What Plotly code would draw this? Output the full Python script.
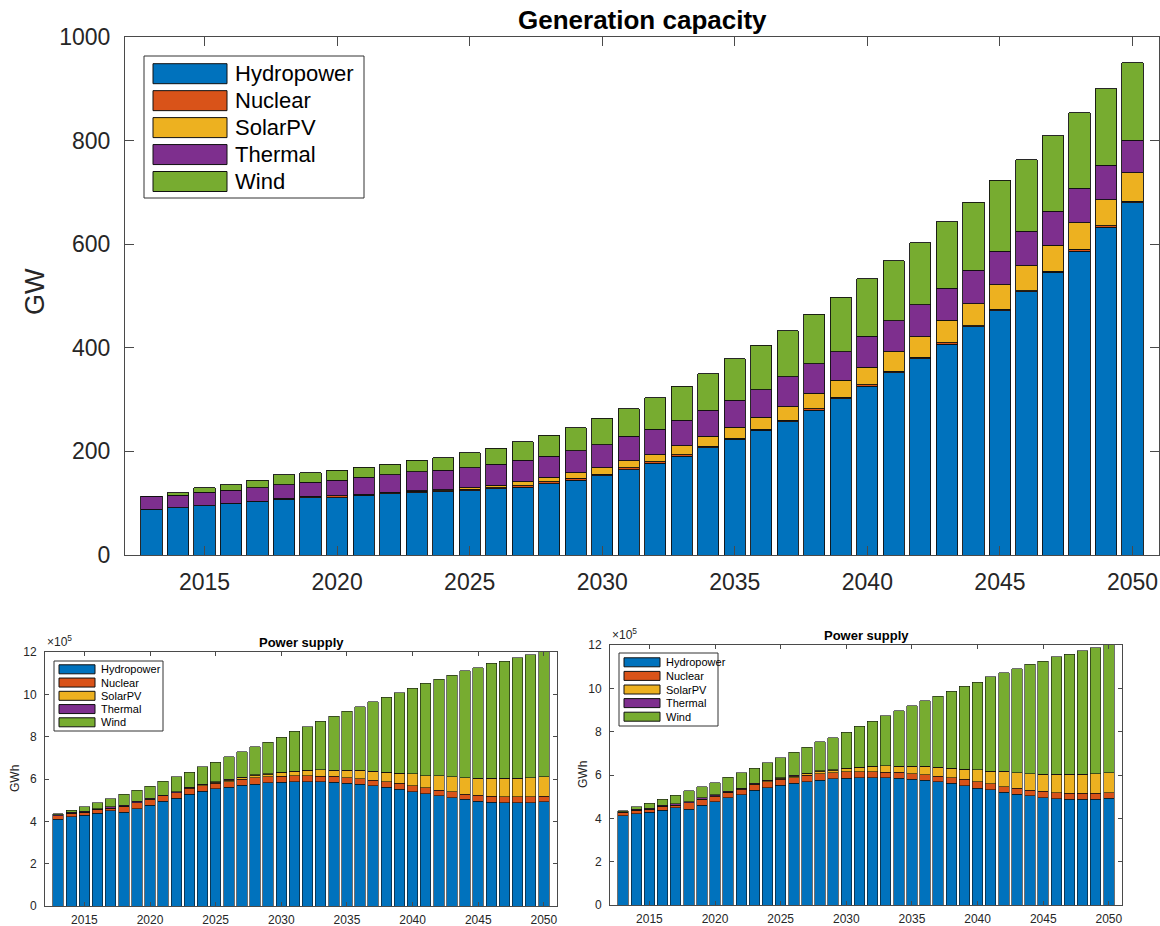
import plotly.graph_objects as go

years = list(range(2013, 2051))
tech_names = ["Hydropower", "Nuclear", "SolarPV", "Thermal", "Wind"]
tech_colors = ["#0072BD", "#D95319", "#EDB120", "#7E2F8E", "#77AC30"]

# Generation capacity (GW)
cap_hydro = [88, 91, 95, 100, 104, 108, 111, 111, 115, 118, 120, 122, 124, 128, 131, 138, 144, 153, 165,
             177, 191, 207, 223, 241, 257, 279, 302, 326, 352, 379, 407, 441, 472, 508, 546, 586, 633, 680]
cap_nuclear = [0, 0, 0, 0, 0, 2, 2, 3, 2, 2, 3, 2, 3, 2, 3, 3, 4, 3, 3,
               3, 3, 3, 2, 2, 3, 3, 3, 3, 3, 3, 3, 2, 2, 2, 2, 4, 3, 3]
cap_solar = [0, 0, 0, 0, 0, 0, 0, 0, 0, 1, 1, 2, 3, 5, 7, 9, 11, 12, 14,
             14, 17, 19, 22, 23, 26, 30, 32, 33, 37, 39, 43, 42, 48, 48, 50, 51, 50, 55]
cap_thermal = [25, 24, 26, 25, 26, 26, 27, 30, 33, 34, 37, 38, 38, 40, 42, 41, 42, 45, 47,
               49, 49, 50, 52, 53, 58, 57, 55, 60, 60, 62, 62, 65, 64, 67, 66, 67, 66, 63]
cap_wind = [0, 5, 9, 11, 14, 19, 19, 20, 19, 20, 22, 24, 29, 31, 36, 40, 45, 51, 53,
            61, 66, 71, 80, 86, 89, 96, 106, 111, 116, 120, 128, 131, 137, 138, 145, 146, 148, 149]

# Power supply (GWh, in units of 1e5)
sup_hydro = [4.11, 4.22, 4.28, 4.38, 4.49, 4.43, 4.60, 4.76, 4.94, 5.09, 5.29, 5.42, 5.53, 5.61, 5.70,
             5.76, 5.83, 5.84, 5.87, 5.87, 5.87, 5.84, 5.80, 5.75, 5.69, 5.61, 5.51, 5.40, 5.31, 5.21,
             5.12, 5.04, 4.96, 4.91, 4.88, 4.88, 4.88, 4.93]
sup_nuclear = [0.16, 0.16, 0.15, 0.18, 0.12, 0.28, 0.28, 0.25, 0.26, 0.26, 0.27, 0.27, 0.27, 0.26, 0.28,
               0.29, 0.28, 0.30, 0.29, 0.29, 0.26, 0.29, 0.26, 0.27, 0.26, 0.26, 0.29, 0.29, 0.28, 0.25,
               0.27, 0.25, 0.28, 0.27, 0.27, 0.27, 0.27, 0.25]
sup_solar = [0, 0, 0, 0, 0, 0, 0, 0.03, 0.01, 0.01, 0.02, 0.04, 0.04, 0.08, 0.09,
             0.13, 0.12, 0.17, 0.19, 0.25, 0.30, 0.28, 0.35, 0.39, 0.40, 0.44, 0.47, 0.55, 0.57, 0.70,
             0.72, 0.77, 0.79, 0.84, 0.87, 0.87, 0.90, 0.93]
sup_thermal = [0.03, 0.04, 0.04, 0.04, 0.07, 0.06, 0.06, 0.06, 0.03, 0.04, 0.03, 0.03, 0.03, 0.03, 0.01,
               0.01, 0.01, 0.005, 0.005, 0.005, 0.005, 0.005, 0.005, 0.005, 0.005, 0.005, 0.005, 0.005, 0.005, 0.005,
               0.005, 0.005, 0.005, 0.005, 0.005, 0.005, 0.005, 0.005]
sup_wind = [0.05, 0.11, 0.22, 0.28, 0.39, 0.51, 0.52, 0.55, 0.65, 0.71, 0.70, 0.81, 0.92, 1.08, 1.21,
            1.34, 1.49, 1.66, 1.89, 2.06, 2.29, 2.55, 2.79, 3.01, 3.29, 3.55, 3.81, 4.04, 4.36, 4.55,
            4.79, 5.04, 5.21, 5.44, 5.55, 5.71, 5.81, 6.00]

cap_series = [cap_hydro, cap_nuclear, cap_solar, cap_thermal, cap_wind]
sup_series = [sup_hydro, sup_nuclear, sup_solar, sup_thermal, sup_wind]

x_ticks = [2015, 2020, 2025, 2030, 2035, 2040, 2045, 2050]
cap_yticks = [0, 200, 400, 600, 800, 1000]
sup_yticks = [0, 2, 4, 6, 8, 10, 12]

FONT = "Liberation Sans, Arial, Helvetica, sans-serif"
TXT = "#262626"
AX = "#4a4a4a"
W, H = 1160, 926


def px_x(p):
    return p / W


def px_y(p):
    return 1 - p / H


fig = go.Figure()

panels = [
    ("x", "y", cap_series, 0.9),
    ("x2", "y2", sup_series, 0.6),
    ("x3", "y3", sup_series, 0.6),
]
for xa, ya, series, lw in panels:
    for name, color, vals in zip(tech_names, tech_colors, series):
        fig.add_trace(go.Bar(
            x=years, y=vals, name=name, xaxis=xa, yaxis=ya, showlegend=False,
            marker=dict(color=color, line=dict(color="#111111", width=lw)),
            hoverinfo="x+y+name",
        ))


def xaxis(domain, anchor, fs, tl, standoff):
    return dict(domain=domain, anchor=anchor, range=[2012, 2051], tickvals=x_ticks, ticks="inside", ticklen=tl,
                tickcolor=AX, showline=True, linecolor=AX, linewidth=1, mirror="ticks",
                showgrid=False, zeroline=False, automargin=False,
                tickfont=dict(family=FONT, size=fs, color=TXT), ticklabelstandoff=standoff)


def yaxis(domain, anchor, rng, tickvals, fs, tl, standoff):
    return dict(domain=domain, anchor=anchor, range=rng, tickvals=tickvals, ticks="inside", ticklen=tl,
                tickcolor=AX, showline=True, linecolor=AX, linewidth=1, mirror="ticks",
                showgrid=False, zeroline=False, automargin=False,
                tickfont=dict(family=FONT, size=fs, color=TXT), ticklabelstandoff=standoff)


fig.update_layout(
    width=W, height=H,
    margin=dict(l=0, r=0, t=0, b=0, autoexpand=False),
    paper_bgcolor="white", plot_bgcolor="white",
    barmode="stack", bargap=0.2,
    font=dict(family=FONT, color=TXT),
    showlegend=False,
    xaxis=xaxis([px_x(125), px_x(1159)], "y", 23, 9, 6),
    yaxis=yaxis([px_y(555), px_y(37)], "x", [0, 1000], cap_yticks, 23, 9, 9),
    xaxis2=xaxis([px_x(45), px_x(557)], "y2", 12, 4, 3),
    yaxis2=yaxis([px_y(906), px_y(652)], "x2", [0, 12], sup_yticks, 12, 4, 5),
    xaxis3=xaxis([px_x(610), px_x(1122)], "y3", 12, 4, 3),
    yaxis3=yaxis([px_y(905), px_y(645)], "x3", [0, 12], sup_yticks, 12, 4, 5),
)

annotations = [
    dict(text="<b>Generation capacity</b>", x=px_x(642), y=px_y(20), font=dict(size=26, color="black")),
    dict(text="GW", x=px_x(35), y=px_y(292), textangle=-90, font=dict(size=27, color=TXT)),
    dict(text="<b>Power supply</b>", x=px_x(301), y=px_y(642), font=dict(size=13, color="black")),
    dict(text="GWh", x=px_x(15), y=px_y(779), textangle=-90, font=dict(size=12, color=TXT)),
    dict(text="<b>Power supply</b>", x=px_x(866), y=px_y(635), font=dict(size=13, color="black")),
    dict(text="GWh", x=px_x(583), y=px_y(775), textangle=-90, font=dict(size=12, color=TXT)),
]
for a in annotations:
    a.update(xref="paper", yref="paper", showarrow=False, xanchor="center", yanchor="middle")
    a["font"]["family"] = FONT
for xl, yt in [(45, 652), (610, 645)]:
    annotations.append(dict(text="×10<sup>5</sup>", x=px_x(xl), y=px_y(yt - 1), xref="paper", yref="paper",
                            showarrow=False, xanchor="left", yanchor="bottom",
                            font=dict(family=FONT, size=12, color=TXT)))

# MATLAB-style legends (box, wide swatches, labels) built from the series names/colours
shapes = []
legend_specs = [
    # box x0, x1, y0, y1, swatch x0, x1, first row y, row step, swatch h, text x, font size
    (144, 364, 56, 198, 153, 227, 73.7, 26.95, 20, 233, 22),
    (54, 163, 661, 731, 59, 95, 669.3, 13.25, 9, 99, 11),
    (619, 718, 653, 726, 624, 660, 662.3, 13.6, 9, 664, 11),
]
for bx0, bx1, by0, by1, sx0, sx1, ry0, rstep, sh, tx, fs in legend_specs:
    shapes.append(dict(type="rect", xref="paper", yref="paper",
                       x0=px_x(bx0), x1=px_x(bx1), y0=px_y(by1), y1=px_y(by0),
                       fillcolor="white", line=dict(color="#333333", width=1), layer="above"))
    for i, (name, color) in enumerate(zip(tech_names, tech_colors)):
        cy = ry0 + i * rstep
        shapes.append(dict(type="rect", xref="paper", yref="paper",
                           x0=px_x(sx0), x1=px_x(sx1), y0=px_y(cy + sh / 2), y1=px_y(cy - sh / 2),
                           fillcolor=color, line=dict(color="#111111", width=1), layer="above"))
        annotations.append(dict(text=name, x=px_x(tx), y=px_y(cy), xref="paper", yref="paper",
                                showarrow=False, xanchor="left", yanchor="middle",
                                font=dict(family=FONT, size=fs, color="black")))

fig.update_layout(annotations=annotations, shapes=shapes)

# remove the default page margin so the 1160x926 figure fills the window exactly
page_fix = "document.body.style.margin='0';document.body.style.overflow='hidden';"
fig.write_html("out.html", post_script=page_fix, config={"displayModeBar": False})
